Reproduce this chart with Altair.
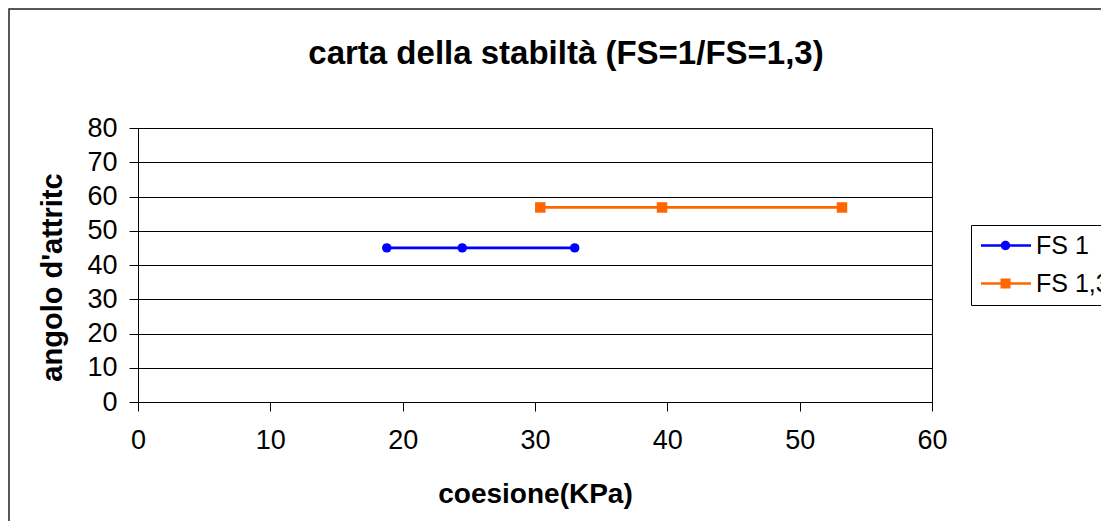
import altair as alt
import pandas as pd

# ---- data ----
series_names = ["FS 1", "FS 1,3"]
fs1_coesione = [18.8, 24.5, 33.0]
fs1_angolo = [45, 45, 45]
fs13_coesione = [30.4, 39.6, 53.2]
fs13_angolo = [56.8, 56.8, 56.8]
series_colors = ["#0000FF", "#FF6600"]
x_ticks = [0, 10, 20, 30, 40, 50, 60]
y_ticks = [0, 10, 20, 30, 40, 50, 60, 70, 80]

df = pd.DataFrame({
    "coesione": fs1_coesione + fs13_coesione,
    "angolo": fs1_angolo + fs13_angolo,
    "serie": [series_names[0]] * len(fs1_coesione) + [series_names[1]] * len(fs13_coesione),
    "ordine": list(range(len(fs1_coesione))) + list(range(len(fs13_coesione))),
})

FONT = "Liberation Sans"

x_enc = alt.X(
    "coesione:Q",
    scale=alt.Scale(domain=[0, 60], nice=False),
    axis=alt.Axis(
        values=x_ticks, grid=False, title="coesione(KPa)",
        tickSize=9, tickColor="black", domainColor="black",
        labelFont=FONT, labelFontSize=27, labelColor="black",
        labelPadding=16, labelFlush=False, labelOverlap=False,
        titleFont=FONT, titleFontSize=28, titleFontWeight="bold", titleColor="black",
        titleY=100, titleBaseline="alphabetic",
    ),
)
y_enc = alt.Y(
    "angolo:Q",
    scale=alt.Scale(domain=[0, 80], nice=False),
    axis=alt.Axis(
        values=y_ticks, grid=True, gridColor="black", gridOpacity=1, gridWidth=1,
        title="angolo d'attritc",
        tickSize=9, tickColor="black", domainColor="black",
        labelFont=FONT, labelFontSize=27, labelColor="black",
        labelPadding=12, labelFlush=False, labelOverlap=False,
        titleFont=FONT, titleFontSize=29, titleFontWeight="bold", titleColor="black",
        titleAngle=270, titleX=-86, titleY=149, titleBaseline="middle", titleAlign="center",
    ),
)

color_scale = alt.Scale(domain=series_names, range=series_colors)

base = alt.Chart(df)

border = alt.Chart(pd.DataFrame({"k": [0]})).mark_rect(
    fillOpacity=0, stroke="#222222", strokeWidth=1.5
).encode(
    x=alt.value(-129), y=alt.value(-119), x2=alt.value(1300), y2=alt.value(900)
)

lines = base.mark_line(strokeWidth=2.7).encode(
    x=x_enc, y=y_enc,
    color=alt.Color("serie:N", scale=color_scale, legend=None),
    order="ordine:Q",
)

points = base.mark_point(filled=True, opacity=1).encode(
    x=x_enc, y=y_enc,
    color=alt.Color("serie:N", scale=color_scale, legend=None),
    shape=alt.Shape("serie:N", scale=alt.Scale(domain=series_names, range=["circle", "square"]), legend=None),
    size=alt.Size("serie:N", scale=alt.Scale(domain=series_names, range=[90, 110]), legend=None),
)

sym_fs1 = ("M-1.05,-0.13H3.95V0.13H-1.05Z "
           "M1.87,0A0.47,0.47 0 1,1 0.93,0A0.47,0.47 0 1,1 1.87,0Z")
sym_fs13 = "M-1.05,-0.13H3.95V0.13H-1.05Z M0.9,-0.5H1.9V0.5H0.9Z"

legend_props = dict(
    orient="none", legendX=833, legendY=97, title=None,
    labelFont=FONT, labelFontSize=25, labelColor="black", labelOffset=32, labelLimit=300,
    padding=8, rowPadding=12, strokeColor="black", fillColor="white",
    symbolSize=400, symbolStrokeWidth=0, symbolOpacity=1,
)

legend_layer = base.mark_point(filled=True, opacity=1, size=400).encode(
    x=x_enc, y=y_enc,
    color=alt.Color("serie:N", scale=color_scale, legend=alt.Legend(**legend_props)),
    shape=alt.Shape("serie:N", scale=alt.Scale(domain=series_names, range=[sym_fs1, sym_fs13]),
                    legend=alt.Legend(**legend_props)),
).transform_filter("false")

chart = alt.layer(border, lines, points, legend_layer).resolve_scale(
    color="independent", shape="independent", size="independent"
).properties(
    width=794, height=274,
    autosize=alt.AutoSizeParams(type="none"),
    padding={"left": 130, "top": 120, "right": 169, "bottom": 119},
    background="white",
    title=alt.TitleParams(
        "carta della stabiltà (FS=1/FS=1,3)",
        font=FONT, fontSize=33, fontWeight="bold", color="black",
        anchor="middle", frame="group", dx=31, offset=-89, baseline="alphabetic",
    ),
).configure_view(stroke="black", strokeWidth=1)

chart.save("out.html", embed_options={"renderer": "svg", "actions": False})
